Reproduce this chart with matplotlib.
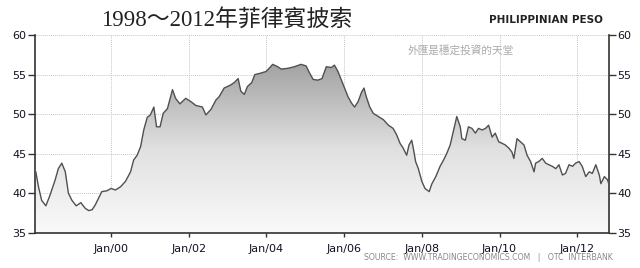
import numpy as np
import matplotlib
matplotlib.use("Agg")
import matplotlib.pyplot as plt
from matplotlib.patches import PathPatch
from matplotlib.colors import LinearSegmentedColormap

# decimal year -> PHP per USD
years = [
    1998.06, 1998.13, 1998.21, 1998.32, 1998.43, 1998.56, 1998.64, 1998.73, 1998.82, 1998.90,
    1998.99, 1999.10, 1999.22, 1999.33, 1999.42, 1999.51, 1999.59, 1999.76, 1999.89, 2000.00,
    2000.11, 2000.24, 2000.37, 2000.50, 2000.58, 2000.67, 2000.76, 2000.84, 2000.93, 2001.01,
    2001.10, 2001.17, 2001.26, 2001.34, 2001.45, 2001.51, 2001.58, 2001.66, 2001.77, 2001.92,
    2002.05, 2002.18, 2002.35, 2002.44, 2002.57, 2002.70, 2002.78, 2002.91, 2003.08, 2003.17,
    2003.27, 2003.34, 2003.43, 2003.51, 2003.62, 2003.70, 2003.86, 2003.99, 2004.07, 2004.16,
    2004.29, 2004.38, 2004.55, 2004.72, 2004.89, 2005.02, 2005.11, 2005.20, 2005.32, 2005.43,
    2005.54, 2005.67, 2005.75, 2005.84, 2005.93, 2006.01, 2006.10, 2006.19, 2006.27, 2006.36,
    2006.45, 2006.51, 2006.57, 2006.66, 2006.75, 2006.88, 2007.01, 2007.14, 2007.26, 2007.35,
    2007.44, 2007.52, 2007.61, 2007.67, 2007.74, 2007.78, 2007.84, 2007.91, 2008.00, 2008.08,
    2008.19, 2008.26, 2008.36, 2008.47, 2008.56, 2008.64, 2008.73, 2008.82, 2008.90, 2008.99,
    2009.03, 2009.12, 2009.20, 2009.29, 2009.38, 2009.46, 2009.55, 2009.64, 2009.72, 2009.81,
    2009.89, 2009.98, 2010.07, 2010.15, 2010.24, 2010.32, 2010.37, 2010.45, 2010.54, 2010.63,
    2010.71, 2010.80, 2010.89, 2010.93, 2011.01, 2011.10, 2011.19, 2011.27, 2011.36, 2011.45,
    2011.53, 2011.62, 2011.70, 2011.79, 2011.88, 2011.96, 2012.05, 2012.13, 2012.22, 2012.31,
    2012.39, 2012.48, 2012.57, 2012.61, 2012.70, 2012.78, 2012.87,
]
peso = [
    42.7, 40.8, 39.1, 38.4, 39.8, 41.7, 43.1, 43.8, 42.7, 40.0,
    39.1, 38.4, 38.8, 38.1, 37.8, 37.9, 38.5, 40.2, 40.3, 40.6,
    40.4, 40.8, 41.5, 42.7, 44.2, 44.8, 45.9, 48.0, 49.6, 49.9,
    50.9, 48.4, 48.4, 50.1, 50.7, 51.8, 53.1, 52.0, 51.3, 52.0,
    51.6, 51.1, 50.9, 49.9, 50.6, 51.8, 52.2, 53.3, 53.7, 54.0,
    54.5, 52.9, 52.5, 53.5, 54.0, 55.0, 55.2, 55.4, 55.8, 56.3,
    56.0, 55.7, 55.8, 56.0, 56.3, 56.1, 55.2, 54.4, 54.3, 54.5,
    56.0, 55.9, 56.2, 55.4, 54.3, 53.3, 52.2, 51.4, 50.9, 51.6,
    52.8, 53.3, 52.2, 50.9, 50.1, 49.7, 49.3, 48.6, 48.2, 47.4,
    46.3, 45.7, 44.8, 46.1, 46.7, 45.7, 44.0, 43.1, 41.5, 40.6,
    40.2, 41.2, 42.1, 43.4, 44.2, 45.0, 46.1, 48.0, 49.7, 48.4,
    46.9, 46.7, 48.4, 48.2, 47.6, 48.2, 48.0, 48.2, 48.6, 47.1,
    47.6, 46.5, 46.3, 46.1, 45.7, 45.2, 44.4, 46.9, 46.5, 46.1,
    44.8, 44.0, 42.7, 43.8, 44.0, 44.4, 43.8, 43.6, 43.4, 43.1,
    43.6, 42.3, 42.5, 43.6, 43.4, 43.8, 44.0, 43.4, 42.1, 42.7,
    42.5, 43.6, 42.3, 41.2, 42.1, 41.7, 40.4,
]
tick_years = [2000, 2002, 2004, 2006, 2008, 2010, 2012]
tick_labels = ["Jan/00", "Jan/02", "Jan/04", "Jan/06", "Jan/08", "Jan/10", "Jan/12"]
y_ticks = [35, 40, 45, 50, 55, 60]

fig = plt.figure(figsize=(6.4, 2.68), dpi=100)
ax = fig.add_axes([0.0547, 0.1317, 0.8969, 0.7373])
x0, x1 = 1998.04, 2012.82
ax.set_xlim(x0, x1)
ax.set_ylim(35, 60)

# gradient fill clipped to the area under the line
grey = LinearSegmentedColormap.from_list("g", ["#fafafa", "#e0e0e0", "#a2a2a2"])
grad = np.linspace(0, 1, 256).reshape(-1, 1)
im = ax.imshow(grad, extent=[x0, x1, 35, 56.5], origin="lower", aspect="auto",
               cmap=grey, zorder=1)
poly = ax.fill_between(years, peso, 35, color="none", lw=0)
clip = PathPatch(poly.get_paths()[0], transform=ax.transData, fc="none", ec="none")
ax.add_patch(clip)
im.set_clip_path(clip)
ax.plot(years, peso, color="#505050", lw=1.0, zorder=3)
ax.set_xlim(x0, x1)
ax.set_ylim(35, 60)

ax.set_xticks(tick_years)
ax.set_xticklabels(tick_labels)
ax.set_yticks(y_ticks)
ax.grid(True, color="#c8c8c8", ls=(0, (1, 1)), lw=0.7, zorder=0)
ax.set_axisbelow(True)
ax.spines["top"].set_visible(False)
for s in ["left", "right", "bottom"]:
    ax.spines[s].set_color("#333333")
    ax.spines[s].set_linewidth(1.2)
ax.tick_params(axis="y", which="both", left=True, right=True, labelleft=True,
               labelright=True, length=5, width=1, color="#333333", pad=1,
               labelsize=8, labelcolor="#111122")
ax.tick_params(axis="x", length=3, width=1, color="#333333", pad=5,
               labelsize=8, labelcolor="#111122")

fig.text(0.354, 0.925, "1998～2012年菲律賓披索", ha="center", va="center",
         fontsize=16.5, color="#222222",
         family=["Liberation Serif", "Noto Sans CJK TC"])
fig.text(0.942, 0.925, "PHILIPPINIAN PESO", ha="right", va="center", fontsize=7.5,
         fontweight="bold", color="#222222",
         family=["Liberation Sans Narrow", "DejaVu Sans"])
fig.text(0.72, 0.812, "外匯是穩定投資的天堂", ha="center", va="center", fontsize=7.7,
         color="#aaaaaa", family=["Noto Sans CJK TC"])
fig.text(0.957, 0.04, "SOURCE:  WWW.TRADINGECONOMICS.COM   |   OTC  INTERBANK",
         ha="right", va="center", fontsize=5.6, color="#888888")

fig.savefig("out.png", dpi=100)
